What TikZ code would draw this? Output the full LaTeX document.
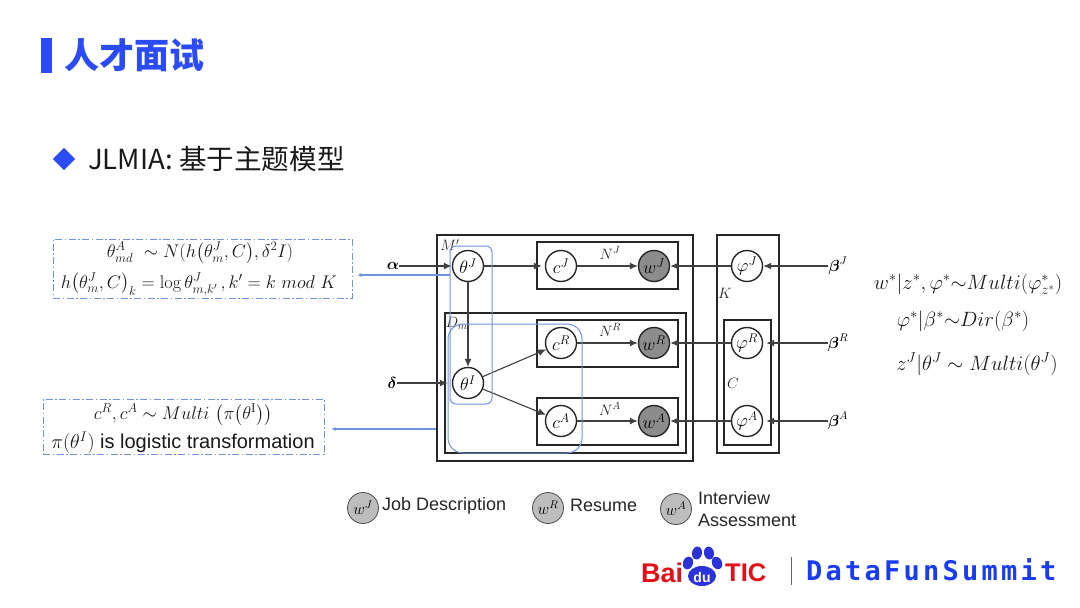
\RequirePackage{fix-cm}
\documentclass[tikz,border=0pt]{standalone}
\usepackage{amsmath}
\usepackage{fontspec}
\newfontfamily\cjk{Noto Sans CJK SC}
\newfontfamily\arial{Liberation Sans}
\newfontfamily\dfmono[LetterSpace=12]{DejaVu Sans Mono}
\usetikzlibrary{arrows.meta}
\definecolor{brand}{HTML}{2B4CF5}
\definecolor{lineblue}{HTML}{6F93DC}
\definecolor{wgrey}{HTML}{8C8C8C}
\definecolor{lgrey}{HTML}{BDBDBD}
\definecolor{bred}{HTML}{E60F19}
\definecolor{bblue}{HTML}{2A32D8}
\definecolor{dfblue}{HTML}{1A3CF0}
\tikzset{
  x=1pt,y=-1pt,
  plate/.style={draw=black!85,line width=1.6pt,inner sep=0pt,fill=none},
  platelabel/.style={inner sep=0pt,font=\fontsize{15}{17}\selectfont,text=black!85},
  var/.style={circle,draw=black!85,line width=1.4pt,fill=white,minimum size=31pt,inner sep=0pt,font=\fontsize{18}{20}\selectfont},
  obs/.style={var,fill=wgrey},
  legend/.style={circle,draw=black!70,line width=.8pt,fill=lgrey,minimum size=31pt,inner sep=0pt,font=\fontsize{16}{18}\selectfont},
  legtext/.style={inner sep=0pt,anchor=west,font=\arial\fontsize{18}{20}\selectfont,text=black!85},
  hyper/.style={inner sep=0pt,font=\fontsize{16}{18}\selectfont},
  arrow/.style={draw=black!75,line width=1.1pt,-{Latex[length=8pt,width=7pt]}},
  bluegroup/.style={draw=lineblue,line width=1pt,inner sep=0pt,fill=none},
  bluearrow/.style={draw=lineblue,line width=1.1pt,-{Latex[length=4pt,width=4pt]}},
  dashbox/.style={draw=lineblue,line width=1pt,dash pattern=on 7pt off 2.5pt on 1.5pt off 2.5pt,inner sep=0pt,fill=none},
  formula/.style={inner sep=0pt,font=\fontsize{20.7}{24}\selectfont,text=black!90},
  fbox/.style={inner sep=0pt,align=center,font=\fontsize{18.3}{22}\selectfont,text=black!90},
}
\begin{document}
\begin{tikzpicture}
\useasboundingbox (0,0) rectangle (1080,608);
\fill[white] (0,0) rectangle (1080,608);
% header
\node[fill=brand,minimum width=11pt,minimum height=35pt,inner sep=0pt] (bar) at (46.5,55.5) {};
\node[inner sep=0pt,anchor=west,text=brand,font=\cjk\bfseries\fontsize{35}{37}\selectfont] (title) at (64,55) {人才面试};
\node[fill=brand,minimum width=22pt,minimum height=22pt,inner sep=0pt,shape=rectangle,rotate=45,scale=.72] (dia) at (64,159) {};
\node[inner sep=0pt,anchor=west,text=black!90,font=\cjk\fontsize{27.6}{30}\selectfont] (sub) at (88,159) {JLMIA: 基于主题模型};
% plates
\node[plate,minimum width=256pt,minimum height=226pt] (M) at (565,348) {};
\node[plate,minimum width=241pt,minimum height=140pt] (D) at (565.5,383) {};
\node[plate,minimum width=141pt,minimum height=47pt] (NJ) at (607.5,265.5) {};
\node[plate,minimum width=141pt,minimum height=47pt] (NR) at (607.5,343.5) {};
\node[plate,minimum width=141pt,minimum height=47pt] (NA) at (607.5,421.5) {};
\node[plate,minimum width=62pt,minimum height=218pt] (K) at (748,344) {};
\node[plate,minimum width=47pt,minimum height=125pt] (C) at (747.5,382.5) {};
\node[platelabel] (lM) at (450,245) {$M'$};
\node[platelabel] (lD) at (458,323) {$D_{m'}$};
\node[platelabel] (lNJ) at (610,253) {$N^J$};
\node[platelabel] (lNR) at (610,330) {$N^R$};
\node[platelabel] (lNA) at (610,409) {$N^A$};
\node[platelabel] (lK) at (725,293) {$K$};
\node[platelabel] (lC) at (733,383) {$C$};
% variables
\node[var] (tJ) at (468,266) {$\theta^J$};
\node[var] (tI) at (468,383) {$\theta^I$};
\node[var] (cJ) at (561,266) {$c^J$};
\node[var] (cR) at (561,343) {$c^R$};
\node[var] (cA) at (561,421) {$c^A$};
\node[obs] (wJ) at (654,266) {$w^J$};
\node[obs] (wR) at (654,343) {$w^R$};
\node[obs] (wA) at (654,421) {$w^A$};
\node[var] (pJ) at (747,266) {$\varphi^J$};
\node[var] (pR) at (747,343) {$\varphi^R$};
\node[var] (pA) at (747,421) {$\varphi^A$};
% hyperparameters
\node[hyper] (al) at (393,266) {$\boldsymbol{\alpha}$};
\node[hyper] (de) at (392,383) {$\boldsymbol{\delta}$};
\node[hyper] (bJ) at (838,266) {$\boldsymbol{\beta}^J$};
\node[hyper] (bR) at (838,343) {$\boldsymbol{\beta}^R$};
\node[hyper] (bA) at (838,421) {$\boldsymbol{\beta}^A$};
% arrows
\draw[arrow] (al) -- (tJ);
\draw[arrow,shorten >=4pt] (de) -- (tI);
\draw[arrow,shorten >=3pt] (tJ) -- (cJ);
\draw[arrow] (tJ) -- (tI);
\draw[arrow] (tI) -- (cR);
\draw[arrow] (tI) -- (cA);
\draw[arrow] (cJ) -- (wJ);
\draw[arrow] (cR) -- (wR);
\draw[arrow] (cA) -- (wA);
\draw[arrow] (pJ) -- (wJ);
\draw[arrow] (pR) -- (wR);
\draw[arrow] (pA) -- (wA);
\draw[arrow] (bJ) -- (pJ);
\draw[arrow,shorten >=3pt] (bR) -- (pR);
\draw[arrow,shorten >=3pt] (bA) -- (pA);
% blue groups
\node[bluegroup,rounded corners=6pt,minimum width=42pt,minimum height=158pt] (B1) at (471,325) {};
\node[bluegroup,rounded corners=15pt,minimum width=134pt,minimum height=129pt] (B2) at (515,388.5) {};
% formula boxes
\node[dashbox,minimum width=299pt,minimum height=59pt] (F1) at (202.5,268.5) {};
\node[dashbox,minimum width=281pt,minimum height=55pt] (F2) at (183.5,426.5) {};
\node[fbox] (f1a) at (200,253) {$\theta_{md}^{A}\ \sim N(h\bigl(\theta_m^J,C\bigr),\delta^2 I)$};
\node[fbox] (f1b) at (199,284) {$h\bigl(\theta_m^J,C\bigr)_k=\log\theta_{m,k'}^J\,,k'=k\ mod\ K$};
\node[fbox] (f2a) at (183,415) {$c^R,c^A\sim Multi\,\left(\pi\bigl(\theta^{\mathrm{I}}\bigr)\right)$};
\node[fbox,font=\arial\fontsize{20}{22}\selectfont] (f2b) at (183,443) {$\pi(\theta^I)$ is logistic transformation};
\coordinate (j1) at (450,275);
\coordinate (j2) at (437,429);
\draw[bluearrow,shorten >=5pt] (B1.west |- j1) -- (F1.east |- j1);
\draw[bluearrow,shorten >=7pt] (M.west |- j2) -- (F2.east |- j2);
% right formulas
\node[formula] (r1) at (968,284) {$w^*|z^*,\varphi^*{\sim}Multi(\varphi_{z^*}^*)$};
\node[formula] (r2) at (963,321) {$\varphi^*|\beta^*{\sim}Dir(\beta^*)$};
\node[formula] (r3) at (977,364) {$z^J|\theta^J\sim Multi(\theta^J)$};
% legend
\node[legend] (l1) at (363,508) {$w^J$};
\node[legend] (l2) at (548,508) {$w^R$};
\node[legend] (l3) at (676,509) {$w^A$};
\node[legtext] (t1) at (382,505.5) {Job Description};
\node[legtext] (t2) at (570,505.5) {Resume};
\node[legtext] (t3) at (698,498) {Interview};
\node[legtext] (t4) at (698,520) {Assessment};
% logo
\node[inner sep=0pt,anchor=west,text=bred,font=\arial\bfseries\fontsize{27}{28}\selectfont] (bai) at (641,573) {Bai};
\node[inner sep=0pt,anchor=west,text=bred,font=\arial\bfseries\fontsize{25.5}{28}\selectfont] (tic) at (725,573) {TIC};
\fill[bblue] (702,576) ellipse (14pt and 10pt);
\fill[bblue,rotate around={-20:(688,563)}] (688,563) ellipse (5pt and 6.5pt);
\fill[bblue,rotate around={-10:(697,553)}] (697,553) ellipse (5pt and 6.5pt);
\fill[bblue,rotate around={10:(709,553)}] (709,553) ellipse (5pt and 6.5pt);
\fill[bblue,rotate around={25:(717,563)}] (717,563) ellipse (5pt and 6.5pt);
\node[inner sep=0pt,text=white,font=\arial\bfseries\fontsize{14}{15}\selectfont] (du) at (702,577) {du};
\node[minimum width=.8pt,minimum height=28pt,inner sep=0pt,fill=black!60] (sep) at (791,571) {};
\node[inner sep=0pt,anchor=west,text=dfblue,font=\dfmono\bfseries\fontsize{27}{30}\selectfont] (df) at (806,570) {DataFunSummit};
\end{tikzpicture}
\end{document}
